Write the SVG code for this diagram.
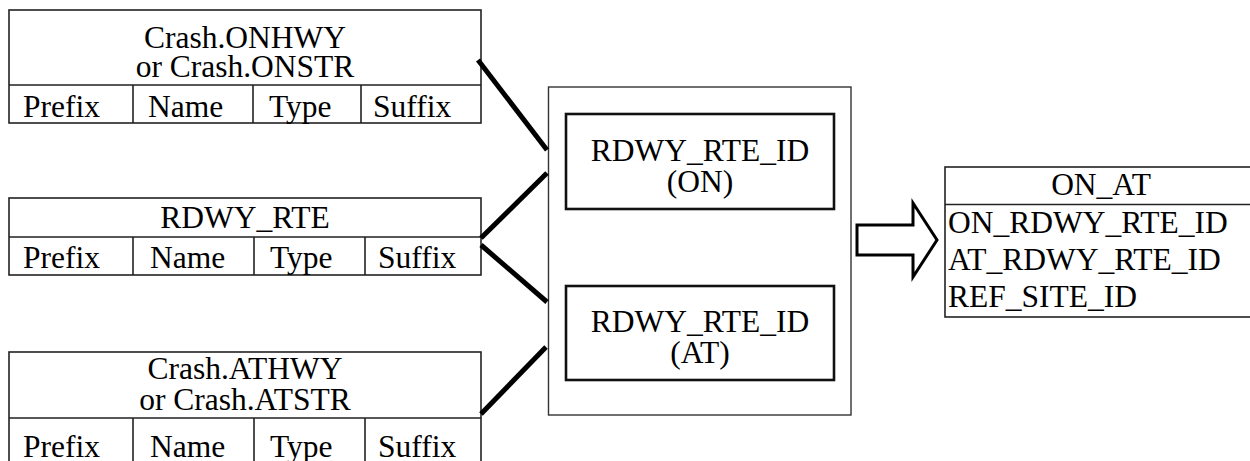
<svg xmlns="http://www.w3.org/2000/svg" width="1250" height="461" viewBox="0 0 1250 461">
<style>
text{font-family:"Liberation Serif","Times New Roman",serif;font-size:31.5px;fill:#000}
.c{text-anchor:middle}
.t{fill:#fff;stroke:#222;stroke-width:1.6}
.ln{stroke:#222;stroke-width:1.6;fill:none}
.ib{fill:#fff;stroke:#111;stroke-width:2.6}
.con{stroke:#000;stroke-width:5;fill:none}
</style>
<rect width="1250" height="461" fill="#fff"/>
<g id="crash-on">
<rect class="t" x="9" y="10" width="472" height="113"/>
<path class="ln" d="M9 85H481M133 85V123M253 85V123M361 85V123"/>
<text class="c" x="245" y="48">Crash.ONHWY</text>
<text class="c" x="245" y="77">or Crash.ONSTR</text>
<text x="23" y="117">Prefix</text>
<text x="148" y="117">Name</text>
<text x="269" y="117">Type</text>
<text x="373" y="117">Suffix</text>
</g>
<g id="rdwy-rte">
<rect class="t" x="9" y="198" width="472" height="77"/>
<path class="ln" d="M9 237H481M133 237V275M254 237V275M365 237V275"/>
<text class="c" x="245" y="228">RDWY_RTE</text>
<text x="23" y="268">Prefix</text>
<text x="150" y="268">Name</text>
<text x="270" y="268">Type</text>
<text x="378" y="268">Suffix</text>
</g>
<g id="crash-at">
<rect class="t" x="9" y="352" width="472" height="120"/>
<path class="ln" d="M9 418H481M133 418V470M254 418V470M365 418V470"/>
<text class="c" x="245" y="379">Crash.ATHWY</text>
<text class="c" x="245" y="410">or Crash.ATSTR</text>
<text x="23" y="457">Prefix</text>
<text x="150" y="457">Name</text>
<text x="270" y="457">Type</text>
<text x="378" y="457">Suffix</text>
</g>
<g id="center">
<rect x="548.5" y="87" width="302.5" height="328" fill="#fff" stroke="#333" stroke-width="1.4"/>
<g id="rte-on">
<rect class="ib" x="566" y="114" width="268" height="95"/>
<text class="c" x="700" y="161">RDWY_RTE_ID</text>
<text class="c" x="700" y="192">(ON)</text>
</g>
<g id="rte-at">
<rect class="ib" x="566" y="286" width="268" height="94"/>
<text class="c" x="700" y="332">RDWY_RTE_ID</text>
<text class="c" x="700" y="363">(AT)</text>
</g>
</g>
<g id="connectors">
<path class="con" d="M478 60L547 150"/>
<path class="con" d="M481 238L547 173"/>
<path class="con" d="M481 245L547 302"/>
<path class="con" d="M481 414L546 347"/>
<polygon points="857,225 913,225 913,203 937,240 913,277 913,255 857,255" fill="#fff" stroke="#000" stroke-width="3" stroke-linejoin="miter"/>
</g>
<g id="on-at">
<rect class="t" x="945" y="167" width="312" height="150"/>
<path class="ln" d="M945 204.5H1257"/>
<text class="c" x="1101" y="195">ON_AT</text>
<text x="948" y="233">ON_RDWY_RTE_ID</text>
<text x="948" y="270">AT_RDWY_RTE_ID</text>
<text x="948" y="307">REF_SITE_ID</text>
</g>
</svg>
